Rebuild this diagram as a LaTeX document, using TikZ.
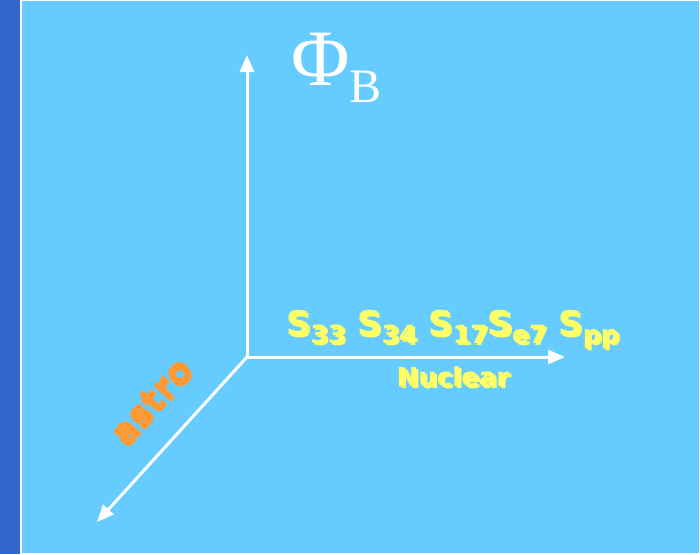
\documentclass[tikz,border=0pt]{standalone}
\usepackage{fontspec}
\setmainfont{Liberation Sans}
\newfontfamily\labfont{DejaVu Sans}
\newfontfamily\phifont{Liberation Serif}
\usetikzlibrary{arrows.meta,calc}
\definecolor{slideblue}{HTML}{66CCFF}
\definecolor{stripblue}{HTML}{3366CC}
\definecolor{labyellow}{HTML}{FFFF66}
\definecolor{laborange}{HTML}{FF9933}
\tikzset{
  axis/.style={white, line width=3pt, -{Triangle[length=17pt,width=14pt]}},
  lab/.style={inner sep=0pt, font=\labfont\bfseries},
  shade/.style={text=black!80},
}
% text with a dark drop shadow: name, position, options, text
\newcommand\shadowed[4]{%
  \node[lab, shade, #3] (#1-sh) at ($(#2)+(2.5,2.5)$) {#4};
  \node[lab, #3] (#1) at (#2) {#4};}
% S with a lowered index
\newcommand\Sfac[1]{S\raisebox{-8pt}{\fontsize{25}{25}\selectfont #1}}
\begin{document}
\begin{tikzpicture}[x=1pt,y=-1pt]
  \useasboundingbox (0,0) rectangle (700,554);
  \fill[stripblue] (0,0) rectangle (20,554);
  \fill[white] (20,0) rectangle (22,554);
  \fill[slideblue] (22,1) rectangle (699,553);
  % axes
  \coordinate (O) at (247,357);
  \coordinate (ytip) at (247,55);
  \coordinate (xtip) at (565,357);
  \coordinate (ztip) at (97,522);
  \draw[axis] (O) -- (ytip);
  \draw[axis] (O) -- (xtip);
  \draw[axis] (O) -- (ztip);
  % labels
  \node[anchor=base west, inner sep=0pt, text=white] (phiB) at (291,85)
    {\phifont\fontsize{80}{80}\selectfont Φ\raisebox{-17pt}{\fontsize{48}{48}\selectfont B}};
  \coordinate (spos) at (286,335);
  \shadowed{factors}{spos}{anchor=base west, text=labyellow, font=\labfont\bfseries\fontsize{34}{34}\selectfont}
    {\Sfac{33} \Sfac{34} \Sfac{17}\Sfac{e7} \Sfac{pp}};
  \coordinate (npos) at (453,386);
  \shadowed{nuclear}{npos}{anchor=base, text=labyellow, font=\labfont\bfseries\fontsize{26}{26}\selectfont}{Nuclear};
  \coordinate (apos) at (151,401);
  \shadowed{astro}{apos}{rotate=48, text=laborange, font=\labfont\bfseries\fontsize{35}{35}\selectfont}{astro};
\end{tikzpicture}
\end{document}
